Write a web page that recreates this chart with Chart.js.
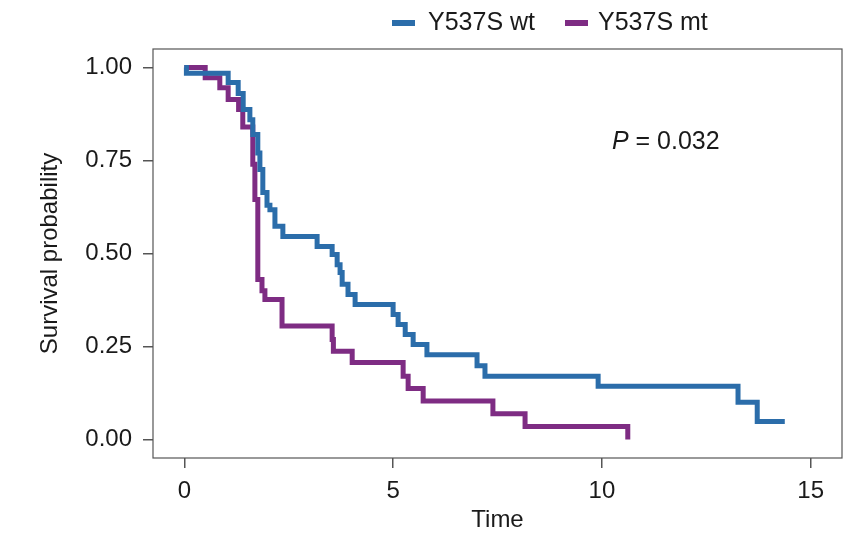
<!DOCTYPE html>
<html>
<head>
<meta charset="utf-8">
<script src="https://cdn.jsdelivr.net/npm/chart.js@4.4.1/dist/chart.umd.min.js"></script>
<style>
  html, body { margin: 0; padding: 0; background: #ffffff; }
  #wrap { width: 857px; height: 533px; position: relative; }
</style>
</head>
<body>
<div id="wrap"><canvas id="c" width="857" height="533"></canvas></div>
<script>
// ---- Data ----
const seriesNames = ["Y537S wt", "Y537S mt"];
const wtTime = [0, 0.05, 1.05, 1.29, 1.41, 1.57, 1.64, 1.76, 1.81, 1.88, 1.98, 2.05, 2.17, 2.36, 3.18, 3.54, 3.66, 3.73, 3.78, 3.92, 4.09, 5.0, 5.12, 5.29, 5.48, 5.81, 7.01, 7.2, 9.91, 13.26, 13.72, 14.38];
const wtSurv = [1.0, 0.985, 0.96, 0.93, 0.887, 0.86, 0.82, 0.77, 0.726, 0.664, 0.63, 0.618, 0.573, 0.546, 0.519, 0.497, 0.47, 0.449, 0.417, 0.39, 0.363, 0.336, 0.309, 0.282, 0.255, 0.228, 0.198, 0.17, 0.143, 0.1, 0.048, 0.048];
const mtTime = [0, 0.5, 0.85, 1.05, 1.3, 1.4, 1.64, 1.69, 1.76, 1.86, 1.93, 2.34, 3.54, 3.57, 4.02, 5.24, 5.36, 5.72, 7.39, 8.16, 10.62];
const mtSurv = [1.0, 0.973, 0.946, 0.914, 0.887, 0.84, 0.74, 0.645, 0.43, 0.40, 0.376, 0.305, 0.269, 0.237, 0.207, 0.17, 0.137, 0.103, 0.069, 0.035, 0.0];
const xTicks = [0, 5, 10, 15];
const yTicks = [0, 0.25, 0.5, 0.75, 1.0];
const pLabel = "0.032";
const xTitle = "Time";
const yTitle = "Survival probability";

const colors = ["#2B6DAA", "#7E2C83"];
const FONT = "'Liberation Sans', Arial, Helvetica, sans-serif";

function toPoints(t, s) { return t.map((v, i) => ({ x: v, y: s[i] })); }

const framePlugin = {
  id: 'framePlugin',
  afterDraw(chart) {
    const { ctx, chartArea: a, scales } = chart;
    ctx.save();
    // panel border
    ctx.strokeStyle = '#555';
    ctx.lineWidth = 1.2;
    ctx.strokeRect(a.left, a.top, a.right - a.left, a.bottom - a.top);
    // P value annotation
    const px = scales.x.getPixelForValue(10.24);
    const py = scales.y.getPixelForValue(0.80);
    ctx.fillStyle = '#1a1a1a';
    ctx.textBaseline = 'middle';
    ctx.textAlign = 'left';
    ctx.font = "italic 25px " + FONT;
    ctx.fillText("P", px, py);
    const w = ctx.measureText("P").width;
    ctx.font = "25px " + FONT;
    ctx.fillText(" = " + pLabel, px + w, py);
    // legend
    const items = [{ x: 392, tx: 428 }, { x: 565, tx: 598 }];
    seriesNames.forEach((name, i) => {
      ctx.fillStyle = colors[i];
      ctx.fillRect(items[i].x, 20, 23, 6);
      ctx.fillStyle = '#1a1a1a';
      ctx.font = "25px " + FONT;
      ctx.fillText(name, items[i].tx, 23);
    });
    ctx.restore();
  }
};

new Chart(document.getElementById('c'), {
  type: 'line',
  data: {
    datasets: [
      { label: seriesNames[0], data: toPoints(wtTime, wtSurv), borderColor: colors[0], backgroundColor: colors[0],
        borderWidth: 5, pointRadius: 0, stepped: 'before', fill: false, borderJoinStyle: 'miter', borderCapStyle: 'butt' },
      { label: seriesNames[1], data: toPoints(mtTime, mtSurv), borderColor: colors[1], backgroundColor: colors[1],
        borderWidth: 5, pointRadius: 0, stepped: 'before', fill: false, borderJoinStyle: 'miter', borderCapStyle: 'butt' }
    ]
  },
  options: {
    responsive: false,
    animation: false,
    layout: { padding: { left: 0, right: 15, top: 49, bottom: 0 } },
    plugins: { legend: { display: false }, tooltip: { enabled: false } },
    scales: {
      x: {
        type: 'linear', min: -0.75, max: 15.75,
        afterBuildTicks: (s) => { s.ticks = xTicks.map(v => ({ value: v })); },
        afterFit: (s) => { s.height = 75; },
        grid: { display: true, drawOnChartArea: false, drawTicks: true, tickLength: 10, color: '#555', lineWidth: 1.5 },
        border: { display: false },
        ticks: { color: '#1a1a1a', font: { family: FONT, size: 24 }, padding: 9, maxRotation: 0, callback: (v) => String(v) },
        title: { display: true, text: xTitle, color: '#1a1a1a', font: { family: FONT, size: 24, lineHeight: 1.05 }, padding: { top: 0, bottom: 0 } }
      },
      y: {
        type: 'linear', min: -0.05, max: 1.05,
        afterBuildTicks: (s) => { s.ticks = yTicks.map(v => ({ value: v })); },
        afterFit: (s) => { s.width = 153; },
        grid: { display: true, drawOnChartArea: false, drawTicks: true, tickLength: 10, color: '#555', lineWidth: 1.5 },
        border: { display: false },
        ticks: { color: '#1a1a1a', font: { family: FONT, size: 24 }, padding: 11, callback: (v) => Number(v).toFixed(2) },
        title: { display: true, text: yTitle, color: '#1a1a1a', font: { family: FONT, size: 24 }, padding: { top: 36, bottom: 0 } }
      }
    }
  },
  plugins: [framePlugin]
});
</script>
</body>
</html>
